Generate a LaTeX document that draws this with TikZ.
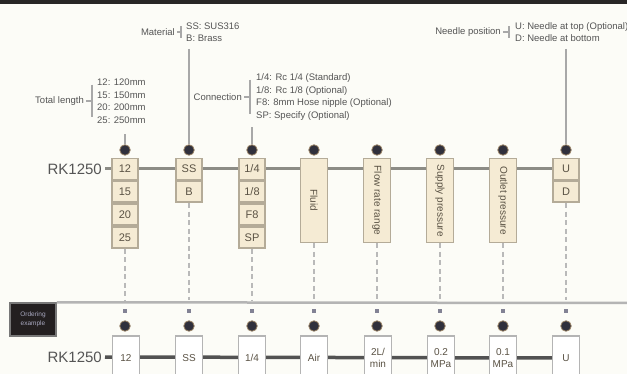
\documentclass[tikz,border=0pt]{standalone}
\usepackage{fontspec}
\setmainfont{Liberation Sans}
\usepackage{tikz}
\usetikzlibrary{positioning, calc, backgrounds}
\definecolor{paper}{RGB}{252,252,247}
\definecolor{topband}{RGB}{40,38,38}
\definecolor{cellfill}{RGB}{245,235,212}
\definecolor{cellline}{RGB}{180,171,152}
\definecolor{celltext}{RGB}{90,82,68}
\definecolor{knobfill}{RGB}{48,48,60}
\definecolor{knobrim}{RGB}{150,128,100}
\definecolor{leadgray}{RGB}{168,168,168}
\definecolor{dashgray}{RGB}{185,185,185}
\definecolor{stubgray}{RGB}{130,130,148}
\definecolor{trunkgray}{RGB}{140,140,134}
\definecolor{trunkdark}{RGB}{82,82,82}
\definecolor{slotline}{RGB}{180,180,180}
\definecolor{labeltext}{RGB}{85,85,85}
\definecolor{exdark}{RGB}{35,31,32}
\definecolor{exrim}{RGB}{120,120,120}
\definecolor{extext}{RGB}{168,168,192}

\begin{document}
\begin{tikzpicture}[x=1pt, y=-1pt,
  cell/.style={draw=cellline, fill=cellfill, line width=1.8pt, minimum width=26pt, minimum height=21pt, inner sep=0pt, text=celltext, font=\fontsize{11}{11}\selectfont},
  tallcell/.style={cell, minimum width=84pt, minimum height=27pt, rotate=-90, font=\fontsize{10}{10}\selectfont},
  slot/.style={draw=slotline, fill=white, line width=1.8pt, minimum width=27pt, minimum height=44pt, inner sep=0pt, align=center, text=celltext, font=\fontsize{10}{12}\selectfont},
  knob/.style={circle, fill=knobfill, draw=knobrim, line width=0.8pt, minimum size=10.5pt, inner sep=0pt},
  stub/.style={fill=stubgray, minimum size=4pt, inner sep=0pt},
  exbox/.style={fill=exdark, draw=exrim, line width=1.5pt, minimum width=46pt, minimum height=33pt, inner sep=0pt, align=center, text=extext, font=\fontsize{6.5}{9}\selectfont},
  code/.style={text=labeltext, font=\fontsize{15}{15}\selectfont, inner sep=0pt},
  lbl/.style={text=labeltext, font=\fontsize{9.5}{12.5}\selectfont, inner sep=0pt},
  opts/.style={lbl, align=left},
  bar/.style={draw=leadgray, line width=1.8pt},
  lead/.style={draw=leadgray, line width=1.8pt},
  dashdrop/.style={draw=dashgray, line width=1.8pt, dash pattern=on 5pt off 3.5pt, shorten >=3pt},
  rule/.style={draw=slotline, line width=2.5pt},
  trunk/.style={draw=trunkgray, line width=3pt},
  basetrunk/.style={draw=trunkdark, line width=3.5pt}]
  \useasboundingbox (0,0) rectangle (627,374);
  \clip (0,0) rectangle (627,374);
  \begin{scope}[on background layer]
    \fill[paper] (0,0) rectangle (627,374);
    \fill[topband] (0,0) rectangle (627,4);
  \end{scope}

  % option labels
  \node[opts, anchor=west] (lenOpts) at (97,101) {12: 120mm\\15: 150mm\\20: 200mm\\25: 250mm};
  \node[lbl, anchor=east] (lenLbl) at (84,101) {Total length};
  \node[opts, anchor=west] (matOpts) at (186,32) {SS: SUS316\\B: Brass};
  \node[lbl, anchor=east] (matLbl) at (175,32) {Material};
  \node[opts, anchor=west] (conOpts) at (256,97) {1/4: Rc 1/4 (Standard)\\1/8: Rc 1/8 (Optional)\\F8: 8mm Hose nipple (Optional)\\SP: Specify (Optional)};
  \node[lbl, anchor=east] (conLbl) at (242,97) {Connection};
  \node[opts, anchor=west] (posOpts) at (515,32) {U: Needle at top (Optional)\\D: Needle at bottom};
  \node[lbl, anchor=east] (posLbl) at (501,32) {Needle position};
  \draw[bar] ([shift={(-5,6)}]lenOpts.north west) -- ([shift={(-5,-6)}]lenOpts.south west);
  \draw[bar] ([shift={(-5,4)}]matOpts.north west) -- ([shift={(-5,-4)}]matOpts.south west);
  \draw[bar] ([shift={(-6,6)}]conOpts.north west) -- ([shift={(-6,-6)}]conOpts.south west);
  \draw[bar] ([shift={(-6,4)}]posOpts.north west) -- ([shift={(-6,-4)}]posOpts.south west);
  \draw[bar] ([xshift=2pt]lenLbl.east) -- ([xshift=-5pt]lenOpts.west);
  \draw[bar] ([xshift=2pt]matLbl.east) -- ([xshift=-5pt]matOpts.west);
  \draw[bar] ([xshift=2pt]conLbl.east) -- ([xshift=-6pt]conOpts.west);
  \draw[bar] ([xshift=2pt]posLbl.east) -- ([xshift=-6pt]posOpts.west);

  % model code
  \node[code, anchor=east] (rkTop) at (102,169) {RK1250};
  \node[cell] (len12) at (125,169) {12};
  \node[cell, below=0pt of len12] (len15) {15};
  \node[cell, below=0pt of len15] (len20) {20};
  \node[cell, below=0pt of len20] (len25) {25};
  \node[cell] (matSS) at (189,169) {SS};
  \node[cell, below=0pt of matSS] (matB) {B};
  \node[cell] (con14) at (252,169) {1/4};
  \node[cell, below=0pt of con14] (con18) {1/8};
  \node[cell, below=0pt of con18] (conF8) {F8};
  \node[cell, below=0pt of conF8] (conSP) {SP};
  \node[tallcell] (fluid) at (314,200.5) {Fluid};
  \node[tallcell] (flow) at (377,200.5) {Flow rate range};
  \node[tallcell] (supply) at (440,200.5) {Supply pressure};
  \node[tallcell] (outlet) at (503,200.5) {Outlet pressure};
  \node[cell] (posU) at (566,169) {U};
  \node[cell, below=0pt of posU] (posD) {D};

  \node[knob] (kLen) at (125,150) {};
  \node[knob] (kMat) at (189,150) {};
  \node[knob] (kCon) at (252,150) {};
  \node[knob] (kFluid) at (314,150) {};
  \node[knob] (kFlow) at (377,150) {};
  \node[knob] (kSupply) at (440,150) {};
  \node[knob] (kOutlet) at (503,150) {};
  \node[knob] (kPos) at (566,150) {};
  \draw[lead] ($(kLen |- lenOpts.south)+(0,11)$) -- (kLen.north);
  \draw[lead] ($(kMat |- matOpts.south)+(0,7)$) -- (kMat.north);
  \draw[lead] ($(kCon |- conOpts.south)+(0,7)$) -- (kCon.north);
  \draw[lead] ($(kPos |- posOpts.south)+(0,7)$) -- (kPos.north);

  % ordering example
  \node[exbox] (example) at (33,319.5) {Ordering\\example};
  \coordinate (ruleEnd) at (627,303);
  \draw[rule] (example.north east) -- (ruleEnd);
  \draw[dashdrop] (len25.south) -- (len25.south |- ruleEnd);
  \draw[dashdrop] (matB.south) -- (matB.south |- ruleEnd);
  \draw[dashdrop] (conSP.south) -- (conSP.south |- ruleEnd);
  \draw[dashdrop] (fluid.east) -- (fluid.east |- ruleEnd);
  \draw[dashdrop] (flow.east) -- (flow.east |- ruleEnd);
  \draw[dashdrop] (supply.east) -- (supply.east |- ruleEnd);
  \draw[dashdrop] (outlet.east) -- (outlet.east |- ruleEnd);
  \draw[dashdrop] (posD.south) -- (posD.south |- ruleEnd);

  \node[stub] (sLen) at (125,311) {};
  \node[stub] (sMat) at (189,311) {};
  \node[stub] (sCon) at (252,311) {};
  \node[stub] (sFluid) at (314,311) {};
  \node[stub] (sFlow) at (377,311) {};
  \node[stub] (sSupply) at (440,311) {};
  \node[stub] (sOutlet) at (503,311) {};
  \node[stub] (sPos) at (566,311) {};
  \node[knob] (bLen) at (125,326) {};
  \node[knob] (bMat) at (189,326) {};
  \node[knob] (bCon) at (252,326) {};
  \node[knob] (bFluid) at (314,326) {};
  \node[knob] (bFlow) at (377,326) {};
  \node[knob] (bSupply) at (440,326) {};
  \node[knob] (bOutlet) at (503,326) {};
  \node[knob] (bPos) at (566,326) {};

  \node[code, anchor=east] (rkBot) at (102,357) {RK1250};
  \node[slot] (exLen) at (126,358) {12};
  \node[slot] (exMat) at (189,358) {SS};
  \node[slot] (exCon) at (252,358) {1/4};
  \node[slot] (exFluid) at (314,358) {Air};
  \node[slot] (exFlow) at (378,358) {2L/\\min};
  \node[slot] (exSupply) at (441,358) {0.2\\MPa};
  \node[slot] (exOutlet) at (503,358) {0.1\\MPa};
  \node[slot] (exPos) at (566,358) {U};

  \begin{scope}[on background layer]
    \draw[trunk] ([xshift=3pt]rkTop.east) -- (posU.center);
    \draw[basetrunk] ([xshift=3pt]rkBot.east) -- (exPos.center);
  \end{scope}
\end{tikzpicture}
\end{document}
